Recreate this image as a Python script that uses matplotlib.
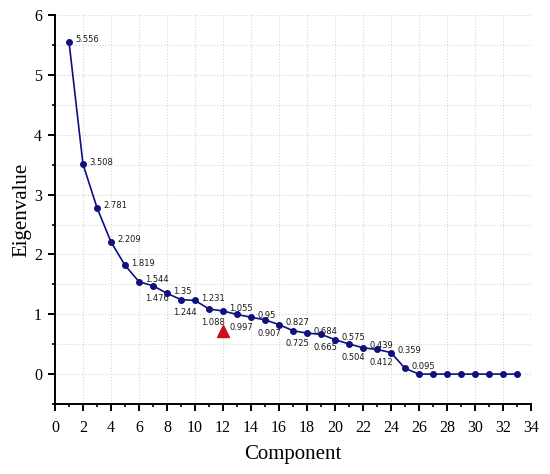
import matplotlib
matplotlib.use("Agg")
import matplotlib.pyplot as plt
from matplotlib.ticker import MultipleLocator

# === Dati: autovalori per componente ===
component = list(range(1, 34))
eigenvalue = [5.556, 3.508, 2.781, 2.209, 1.819, 1.544, 1.476, 1.35, 1.244, 1.231,
              1.088, 1.055, 0.997, 0.95, 0.907, 0.827, 0.725, 0.684, 0.665, 0.575,
              0.504, 0.439, 0.412, 0.359, 0.095,
              0, 0, 0, 0, 0, 0, 0, 0]
n_labels = 25            # solo i primi 25 valori hanno l'etichetta
# componenti con l'etichetta sotto il punto
below = [7, 9, 11, 13, 15, 17, 19, 21, 23]

marker_x = [12]
marker_y = [0.72]

fig = plt.figure(figsize=(5.5, 4.74), dpi=100)
ax = fig.add_axes([0.1, 0.1477, 0.8655, 0.8203])

ax.plot(component, eigenvalue, color="#10107f", lw=1.2, marker="o", ms=4, zorder=3)
ax.plot(marker_x, marker_y, linestyle="none", marker="^", ms=8, color="#c8101e", zorder=3)

# etichette dei valori
for c, v in zip(component[:n_labels], eigenvalue[:n_labels]):
    txt = f"{v:g}"
    if c in below:
        ax.annotate(txt, (c, v), xytext=(3, -9.5), textcoords="offset points",
                    ha="center", va="center", fontsize=6, color="#1a1a1a")
    else:
        ax.annotate(txt, (c, v), xytext=(4.5, 1.5), textcoords="offset points",
                    ha="left", va="center", fontsize=6, color="#1a1a1a")

ax.set_xlim(0, 34)
ax.set_ylim(-0.5, 6)
ax.xaxis.set_major_locator(MultipleLocator(2))
ax.xaxis.set_minor_locator(MultipleLocator(1))
ax.yaxis.set_major_locator(MultipleLocator(1))
ax.yaxis.set_minor_locator(MultipleLocator(0.5))

ax.grid(which="major", axis="x", color="#d4d4d4", ls=":", lw=0.8)
ax.grid(which="both", axis="y", color="#d4d4d4", ls=":", lw=0.8)
ax.set_axisbelow(True)

for s in ["top", "right"]:
    ax.spines[s].set_visible(False)
for s in ["left", "bottom"]:
    ax.spines[s].set_linewidth(1.4)

ax.tick_params(which="major", length=4.8, width=1.4, direction="out")
ax.tick_params(which="minor", length=2.5, width=1.2, direction="out")
ax.tick_params(axis="x", which="major", pad=6.5)
ax.tick_params(axis="y", which="major", pad=4.5)
for lab in ax.get_xticklabels() + ax.get_yticklabels():
    lab.set_fontfamily("Liberation Serif")
    lab.set_fontsize(11.5)

ax.set_xlabel("Component", fontfamily="Liberation Serif", fontsize=15, labelpad=7)
ax.set_ylabel("Eigenvalue", fontfamily="Liberation Serif", fontsize=15, labelpad=2)

plt.savefig("out.png", dpi=100)
plt.close()
